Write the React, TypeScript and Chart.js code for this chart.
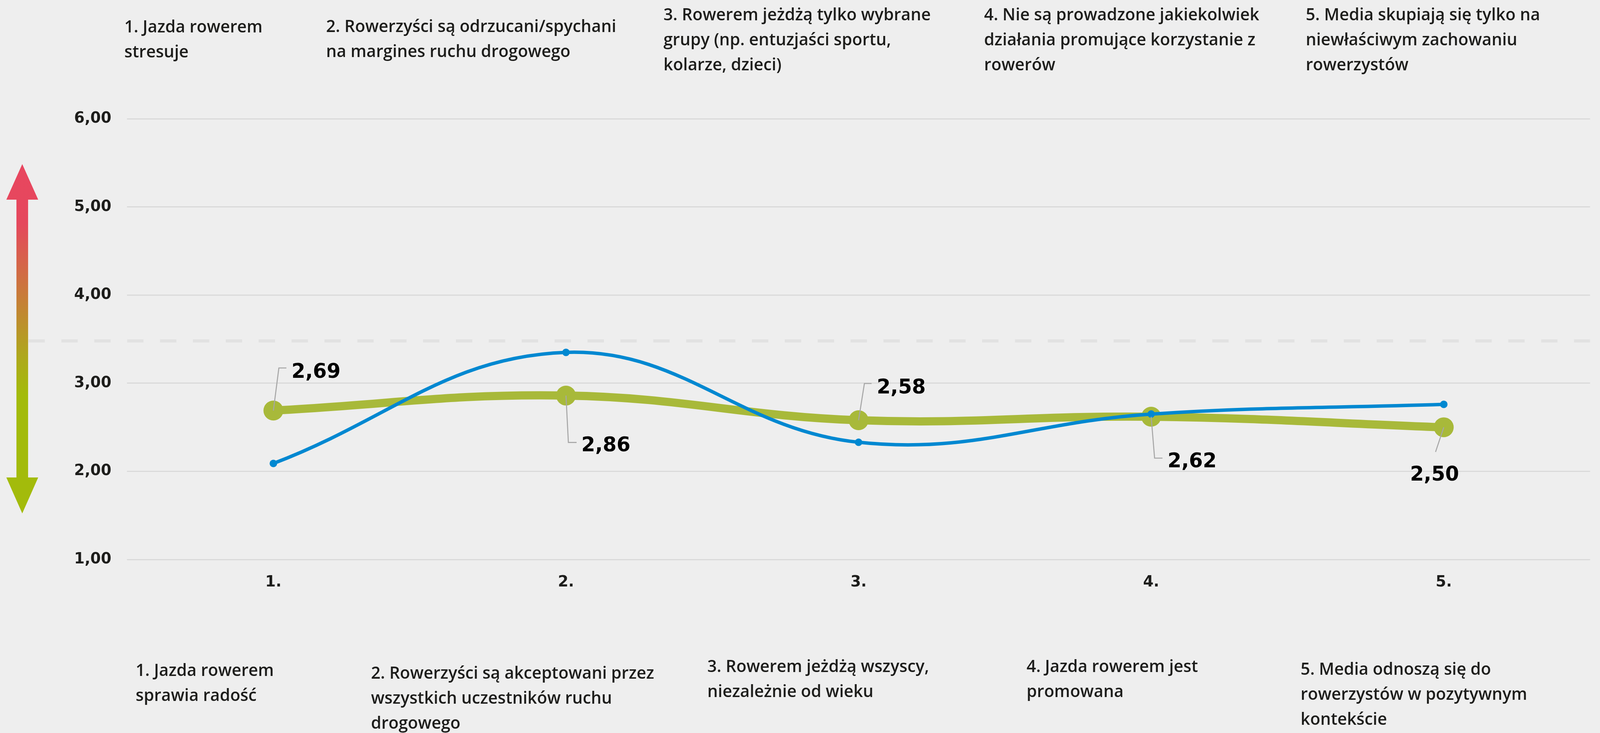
import { useEffect, useRef } from 'react';
import { Chart, registerables } from 'chart.js';

Chart.register(...registerables);

// ---------- data ----------
const categories = ['1.', '2.', '3.', '4.', '5.'];
const seriesGreen = [2.69, 2.86, 2.58, 2.62, 2.5];
const seriesBlue = [2.09, 3.35, 2.33, 2.65, 2.76];
const yMin = 1;
const yMax = 6;
const referenceValue = 3.48;

const topLabels = [
  ['1. Jazda rowerem', 'stresuje'],
  ['2. Rowerzyści są odrzucani/spychani', 'na margines ruchu drogowego'],
  ['3. Rowerem jeżdżą tylko wybrane', 'grupy (np. entuzjaści sportu,', 'kolarze, dzieci)'],
  ['4. Nie są prowadzone jakiekolwiek', 'działania promujące korzystanie z', 'rowerów'],
  ['5. Media skupiają się tylko na', 'niewłaściwym zachowaniu', 'rowerzystów'],
];
const bottomLabels = [
  ['1. Jazda rowerem', 'sprawia radość'],
  ['2. Rowerzyści są akceptowani przez', 'wszystkich uczestników ruchu', 'drogowego'],
  ['3. Rowerem jeżdżą wszyscy,', 'niezależnie od wieku'],
  ['4. Jazda rowerem jest', 'promowana'],
  ['5. Media odnoszą się do', 'rowerzystów w pozytywnym', 'kontekście'],
];

// ---------- layout / style (designed for 4671 x 1876, scaled to the viewport) ----------
const DW = 4671;
const DH = 1876;
const BG = '#eeeeee';
const TEXT = '#1d1d1b';
const GREEN = '#a8b93a';
const BLUE = '#0088d1';
const FONT = '"DejaVu Sans", "Open Sans", sans-serif';
const TEXT_FONT = '"Open Sans", "DejaVu Sans", sans-serif';

const topPos = [
  { x: 363, y: 83 },
  { x: 952, y: 82 },
  { x: 1937, y: 52 },
  { x: 2873, y: 52 },
  { x: 3812, y: 52 },
];
const bottomPos = [
  { x: 396, y: 1730 },
  { x: 1083, y: 1737 },
  { x: 2065, y: 1720 },
  { x: 2997, y: 1720 },
  { x: 3797, y: 1727 },
];
const LINE_H = 64;

// leader line and value-label placement relative to each green point
const labelPlacement: { leader: number[][]; tx: number; ty: number; align: CanvasTextAlign }[] = [
  { leader: [[16, -109], [38, -109]], tx: 53, ty: -84, align: 'left' },
  { leader: [[7, 120], [31, 120]], tx: 45, ty: 143, align: 'left' },
  { leader: [[17, -94], [38, -94]], tx: 53, ty: -69, align: 'left' },
  { leader: [[10, 106], [33, 106]], tx: 48, ty: 129, align: 'left' },
  { leader: [[-24, 63]], tx: -27, ty: 136, align: 'center' },
];

const fmt = (v: number) => v.toFixed(2).replace('.', ',');

function makePlugin(sx: number, sy: number) {
  const s = Math.min(sx, sy);
  return {
    id: 'decor',
    beforeDraw(chart: any) {
      const { ctx } = chart;
      ctx.save();
      ctx.fillStyle = BG;
      ctx.fillRect(0, 0, chart.width, chart.height);
      ctx.restore();
    },
    beforeDatasetsDraw(chart: any) {
      const { ctx, chartArea, scales } = chart;
      const y = scales.y.getPixelForValue(referenceValue);
      ctx.save();
      // dashed reference line
      ctx.strokeStyle = '#e2e2e2';
      ctx.lineWidth = 8 * sy;
      ctx.setLineDash([48 * sx, 48 * sx]);
      ctx.beginPath();
      ctx.moveTo(83 * sx, y);
      ctx.lineTo(chartArea.right, y);
      ctx.stroke();
      ctx.setLineDash([]);

      // double arrow with gradient
      const cx = 65 * sx;
      const topTip = 420 * sy;
      const topBase = 511 * sy;
      const botBase = 1222 * sy;
      const botTip = 1314 * sy;
      const headHalf = 46.5 * sx;
      const shaftHalf = 17 * sx;
      const g = ctx.createLinearGradient(0, topTip, 0, botTip);
      g.addColorStop(0, '#e8465f');
      g.addColorStop(0.17, '#e5485d');
      g.addColorStop(0.37, '#c97a3a');
      g.addColorStop(0.55, '#aea81c');
      g.addColorStop(0.66, '#a3bb0b');
      g.addColorStop(1, '#a3bb0b');
      ctx.fillStyle = g;
      ctx.beginPath();
      ctx.moveTo(cx, topTip);
      ctx.lineTo(cx + headHalf, topBase);
      ctx.lineTo(cx + shaftHalf, topBase);
      ctx.lineTo(cx + shaftHalf, botBase);
      ctx.lineTo(cx + headHalf, botBase);
      ctx.lineTo(cx, botTip);
      ctx.lineTo(cx - headHalf, botBase);
      ctx.lineTo(cx - shaftHalf, botBase);
      ctx.lineTo(cx - shaftHalf, topBase);
      ctx.lineTo(cx - headHalf, topBase);
      ctx.closePath();
      ctx.fill();
      ctx.restore();
    },
    afterDatasetsDraw(chart: any) {
      const { ctx } = chart;
      const meta = chart.getDatasetMeta(1);
      ctx.save();
      meta.data.forEach((pt: any, i: number) => {
        const p = labelPlacement[i];
        ctx.strokeStyle = '#a6a6a6';
        ctx.lineWidth = 3 * s;
        ctx.beginPath();
        ctx.moveTo(pt.x, pt.y);
        p.leader.forEach(([dx, dy]) => ctx.lineTo(pt.x + dx * sx, pt.y + dy * sy));
        ctx.stroke();
        ctx.fillStyle = '#000000';
        ctx.font = `bold ${58 * s}px ${FONT}`;
        ctx.textAlign = p.align;
        ctx.textBaseline = 'alphabetic';
        ctx.fillText(fmt(seriesGreen[i]), pt.x + p.tx * sx, pt.y + p.ty * sy);
      });

      // category descriptions
      ctx.fillStyle = TEXT;
      ctx.font = `600 ${48.5 * s}px ${TEXT_FONT}`;
      ctx.textAlign = 'left';
      topLabels.forEach((lines, i) => {
        lines.forEach((t, j) => ctx.fillText(t, topPos[i].x * sx, (topPos[i].y + j * LINE_H) * sy));
      });
      bottomLabels.forEach((lines, i) => {
        lines.forEach((t, j) => ctx.fillText(t, bottomPos[i].x * sx, (bottomPos[i].y + j * LINE_H) * sy));
      });
      ctx.restore();
    },
  };
}

export default function App() {
  const ref = useRef<HTMLCanvasElement | null>(null);
  useEffect(() => {
    document.documentElement.style.overflow = 'hidden';
    document.body.style.margin = '0';
    document.body.style.overflow = 'hidden';
    document.body.style.background = BG;
    const vw = window.innerWidth || DW;
    const vh = window.innerHeight || DH;
    const sx = vw / DW;
    const sy = vh / DH;
    const s = Math.min(sx, sy);
    const canvas = ref.current!;
    canvas.width = vw;
    canvas.height = vh;
    canvas.style.width = vw + 'px';
    canvas.style.height = vh + 'px';
    const chart = new Chart(canvas, {
      type: 'line',
      data: {
        labels: categories,
        datasets: [
          {
            label: 'blue',
            data: seriesBlue,
            borderColor: BLUE,
            backgroundColor: BLUE,
            borderWidth: 10 * s,
            pointRadius: 11 * s,
            pointBorderWidth: 0,
            pointBackgroundColor: BLUE,
            tension: 0.4,
            fill: false,
          },
          {
            label: 'green',
            data: seriesGreen,
            borderColor: GREEN,
            backgroundColor: GREEN,
            borderWidth: 24 * s,
            pointRadius: 29 * s,
            pointBorderWidth: 0,
            pointBackgroundColor: GREEN,
            tension: 0.4,
            fill: false,
          },
        ],
      },
      options: {
        responsive: false,
        animation: false,
        devicePixelRatio: 1,
        layout: { padding: { left: 0, right: 15 * sx, top: 304 * sy, bottom: 0 } },
        plugins: { legend: { display: false }, tooltip: { enabled: false } },
        scales: {
          x: {
            offset: true,
            grid: { display: false, drawTicks: false },
            border: { display: false },
            ticks: {
              color: TEXT,
              font: { family: FONT, size: 44 * s, weight: 'bold' },
              padding: 36 * sy,
            },
            afterFit: (sc: any) => {
              sc.height = 444 * sy;
            },
          },
          y: {
            min: yMin,
            max: yMax,
            ticks: {
              stepSize: 1,
              color: TEXT,
              padding: 46 * sx,
              font: { family: FONT, size: 44 * s, weight: 'bold' },
              callback: (v: any) => fmt(Number(v)),
            },
            grid: { color: '#d8d8d8', lineWidth: 3 * s, drawTicks: false },
            border: { display: false },
            afterFit: (sc: any) => {
              sc.width = 371 * sx;
            },
          },
        },
      },
      plugins: [makePlugin(sx, sy)],
    });
    return () => chart.destroy();
  }, []);
  return (
    <div style={{ background: BG }}>
      <canvas ref={ref} style={{ display: 'block' }} />
    </div>
  );
}
